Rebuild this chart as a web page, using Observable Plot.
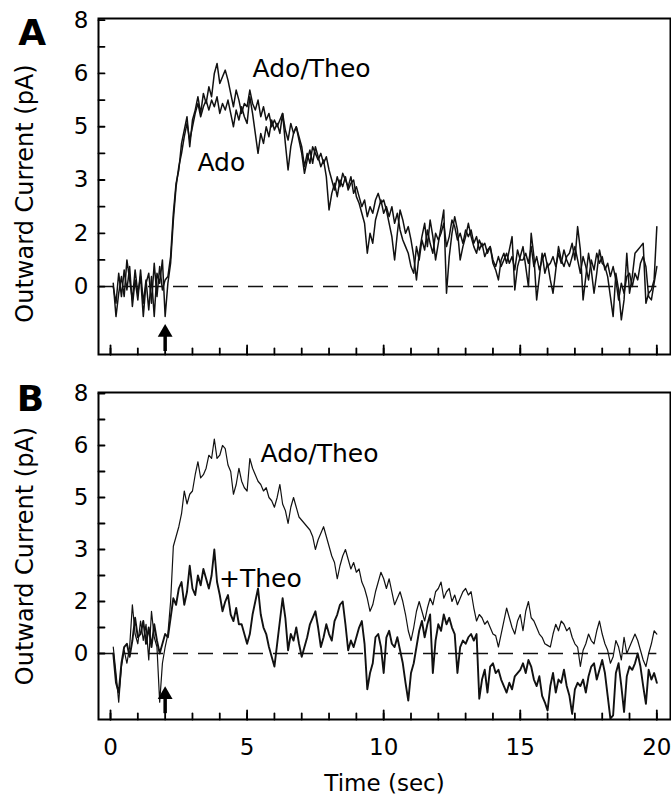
<!DOCTYPE html>
<html><head><meta charset="utf-8">
<script src="https://cdn.jsdelivr.net/npm/d3@7"></script>
<script src="https://cdn.jsdelivr.net/npm/@observablehq/plot@0.6"></script>
<style>
body{margin:0;background:#fff;}
#chart{position:relative;width:671px;height:795px;background:#fff;}
#chart svg{position:absolute;left:0;}
</style></head><body><div id="chart"></div>
<script>
// Sampling grid: 0.1 s to 20.0 s
const time = d3.range(1, 201).map(i => i / 10);

// Panel A – Ado/Theo (pA)
const panelA_adoTheo = [
 0.1,-0.9,-0.2,0.3,-0.3,0.8,0.2,-0.4,0.5,-0.2,
 0.3,-0.9,0.1,0.4,-0.5,0.7,-0.3,0.6,-0.1,0.2,
 0.3,0.9,2.2,3.1,3.5,4.3,4.7,5.1,4.2,5.0,
 5.3,5.7,5.2,5.8,5.5,6.0,5.7,6.4,6.7,6.1,
 6.3,6.5,6.2,5.8,5.4,5.9,5.6,5.2,5.5,5.4,
 5.9,5.5,5.3,5.6,5.1,5.4,5.0,5.2,4.8,5.0,
 4.8,5.0,5.2,4.7,4.4,4.9,4.6,4.8,4.5,4.2,
 3.6,4.0,3.7,4.2,4.0,3.8,4.0,3.7,3.9,3.5,
 3.2,2.9,3.3,3.0,3.4,3.2,3.0,3.3,2.8,3.0,
 2.7,2.4,2.6,2.1,2.4,2.2,2.6,2.8,2.5,2.6,
 2.3,1.9,1.5,0.8,1.6,2.3,2.0,1.6,1.8,1.4,
 0.9,0.2,1.0,1.5,1.9,1.2,2.0,1.5,0.8,1.3,
 1.8,2.3,-0.2,0.9,1.6,2.1,1.7,0.8,1.2,1.5,
 1.9,1.5,1.2,1.0,1.4,1.2,1.3,1.0,1.2,0.7,
 0.5,0.2,0.8,1.0,0.7,1.1,1.5,-0.1,0.6,0.9,
 1.2,0.6,0.0,1.6,0.9,-0.4,0.3,1.0,0.4,0.7,
 0.2,-0.2,0.5,1.2,0.8,0.6,0.9,1.0,1.3,0.8,
 1.8,1.1,-0.4,0.3,1.0,0.5,-0.2,0.4,1.1,0.7,
 0.6,0.3,-0.3,-0.9,0.4,-0.1,-1.0,-0.4,1.0,-0.2,
 0.3,1.0,1.1,1.2,1.3,-0.5,-0.2,-0.1,0.2,1.8
];
// Panel A – Ado (pA)
const panelA_ado = [
 0.0,-0.5,0.4,-0.3,0.5,-0.1,0.6,-0.6,0.2,-0.4,
 0.5,-0.5,0.2,-0.7,0.3,-0.9,0.4,0.1,0.8,-0.9,
 0.1,0.7,2.0,3.0,3.6,4.0,4.5,4.9,4.4,4.8,
 5.2,5.5,5.1,5.4,5.6,5.3,5.6,5.4,5.7,5.2,
 5.5,5.3,5.6,5.2,4.8,5.3,5.0,5.4,5.1,4.9,
 5.7,5.2,4.6,4.0,4.6,4.3,4.8,4.5,5.0,4.7,
 4.9,4.6,5.2,4.3,3.5,4.2,4.6,4.8,4.4,4.0,
 3.4,3.8,4.1,3.7,4.2,3.9,3.6,3.8,3.3,2.3,
 2.8,3.1,2.7,3.2,3.0,3.3,2.9,3.1,3.2,2.7,
 2.5,2.2,1.9,1.0,1.6,1.3,2.0,2.3,2.6,2.2,
 2.4,2.1,2.4,1.9,2.2,1.7,1.4,1.2,1.0,0.6,
 0.4,1.2,0.8,1.4,1.1,1.7,1.3,1.0,1.6,1.4,
 1.6,1.9,1.2,1.5,2.0,1.8,1.4,1.6,1.3,1.7,
 1.5,1.7,1.3,1.5,1.1,1.3,0.9,1.1,1.2,0.8,
 0.6,0.9,0.6,0.8,1.0,0.7,0.9,0.5,1.1,0.8,
 0.8,1.0,0.7,1.2,0.6,0.9,0.5,0.8,1.0,0.6,
 0.7,0.9,0.6,1.0,0.7,1.1,0.8,0.6,0.9,1.2,
 0.8,0.4,0.9,0.6,0.2,0.8,0.5,1.0,0.7,0.9,
 0.5,0.7,0.3,0.6,0.2,-0.4,0.1,-0.2,0.3,0.4,
 0.0,0.4,0.2,0.7,0.9,0.6,-0.3,-0.4,0.1,0.6
];
// Panel B – Ado/Theo (pA)
const panelB_adoTheo = [
 0.2,-0.6,-1.5,-0.4,0.1,-0.3,0.2,1.5,0.6,0.3,
 1.0,0.4,0.9,-0.2,1.3,0.5,0.2,-1.5,-0.3,0.2,
 0.6,1.6,3.3,3.6,3.9,4.3,5.0,4.6,4.9,5.0,
 5.5,5.9,5.4,5.5,5.7,6.1,6.0,6.6,6.0,6.1,
 6.4,6.3,5.8,5.6,4.9,5.2,5.7,5.3,5.1,5.0,
 6.0,5.7,5.5,5.3,5.2,5.0,5.1,4.8,4.7,4.5,
 4.8,5.2,4.6,4.4,4.0,4.5,4.8,4.5,4.2,4.1,
 4.0,3.9,3.8,3.6,3.2,3.5,3.7,3.9,3.6,3.3,
 3.0,2.8,2.3,2.7,3.0,3.2,2.9,2.6,2.8,2.5,
 2.6,2.2,2.0,1.7,1.3,1.5,1.9,2.2,2.5,2.3,
 2.0,2.3,1.9,1.5,1.7,1.9,1.6,1.2,0.7,0.4,
 0.8,1.3,1.6,1.3,1.0,1.4,1.7,1.5,1.9,2.0,
 2.2,1.7,1.9,2.0,1.6,1.8,1.5,1.7,1.9,2.0,
 1.8,1.9,1.4,1.0,1.2,1.1,0.9,1.0,0.8,0.6,
 0.55,0.2,0.6,1.0,1.4,1.1,0.8,0.6,1.0,1.2,
 0.7,1.3,1.6,1.1,1.0,0.8,0.6,0.5,0.3,0.25,
 0.2,0.6,0.9,0.7,1.0,0.9,0.7,0.8,0.5,0.3,
 0.2,-0.4,0.1,0.3,0.6,0.4,0.3,0.7,1.0,0.6,
 0.3,0.1,-0.3,-0.1,0.4,0.2,-0.2,0.5,0.0,0.2,
 0.4,0.6,0.4,0.1,-0.2,-0.4,0.0,0.3,0.7,0.6
];
// Panel B – +Theo (pA)
const panelB_theo = [
 0.0,-0.9,-1.2,-0.3,0.2,0.3,-0.1,0.4,1.1,0.5,
 0.6,1.0,0.3,0.8,0.2,0.9,0.4,0.0,0.3,0.6,
 0.5,1.1,1.7,1.5,2.0,2.2,1.5,1.9,2.7,2.0,
 1.8,2.4,2.1,2.6,2.3,2.0,2.4,3.2,2.2,1.8,
 1.3,1.6,1.8,1.2,1.0,1.4,0.9,0.9,0.6,0.3,
 0.6,1.2,1.6,2.0,1.2,0.8,0.6,0.2,-0.1,-0.4,
 0.3,1.0,1.7,1.1,0.1,0.6,0.4,0.8,0.3,-0.1,
 0.2,0.5,0.9,1.1,1.3,0.8,0.2,0.5,0.9,0.6,
 0.4,1.0,1.2,1.5,1.6,0.9,0.1,0.4,0.2,0.5,
 0.8,1.0,0.3,-1.1,-0.6,-0.3,0.5,0.6,0.2,-0.6,
 0.5,0.7,0.3,0.2,0.5,0.1,-0.3,-0.9,-1.45,-0.6,
 -0.3,0.2,0.7,1.0,0.5,0.9,1.2,-0.6,0.4,0.9,
 0.7,1.2,0.9,1.1,0.8,0.6,-0.6,0.2,0.4,0.3,
 0.5,0.6,0.4,0.6,-1.39,-0.8,-0.5,-1.2,-0.4,-0.3,
 -0.6,-0.5,-0.8,-1.0,-1.2,-0.9,-1.1,-0.7,-0.6,-0.5,
 -0.3,-0.6,-0.2,-0.4,-0.8,-1.0,-0.7,-1.3,-1.5,-1.75,
 -1.0,-0.6,-1.2,-0.8,-0.9,-0.5,-1.0,-1.3,-1.86,-1.1,
 -0.9,-1.0,-0.8,-1.2,-0.7,-0.4,-0.3,-0.8,-0.5,-0.2,
 -0.6,-1.3,-2.0,-1.9,-0.6,-0.3,-1.0,-1.8,-0.7,-0.4,
 -0.5,-0.3,0.0,-0.4,-1.0,-1.55,-0.5,-0.8,-0.6,-0.9
];

// Ticks
const yLabelTicks = [0, 1.6, 3.2, 4.8, 6.4, 8];
const yMinorTicks = [0, 0.8, 1.6, 2.4, 3.2, 4.0, 4.8, 5.6, 6.4, 7.2, 8.0];
const xMinorTicks = d3.range(0, 21);
const xMajorTicks = [0, 5, 10, 15, 20];

// Stimulus time (arrow)
const stimulusTime = 2;

// Annotations
const labelsA = [
  {t: 5.2, v: 6.28, label: "Ado/Theo"},
  {t: 3.18, v: 3.48, label: "Ado"}
];
const labelsB = [
  {t: 5.49, v: 5.89, label: "Ado/Theo"},
  {t: 3.97, v: 2.06, label: "+Theo"}
];

const toRows = vals => vals.map((v, i) => ({t: time[i], v}));
const fmt = d => d3.format(".0f")(d);
const FONT = "'DejaVu Sans', 'Liberation Sans', Arial, sans-serif";
const tickShape = {draw(context, l) { context.moveTo(0, 0); context.lineTo(0, -l); }};

function panel(o) {
  const marks = [
    Plot.ruleY([0], {x1: o.xDomain[0], x2: d3.max(time), stroke: "#111", strokeWidth: 1.6, strokeDasharray: "15,10"}),
    ...o.traces.map(tr => Plot.line(toRows(tr.values), {x: "t", y: "v", stroke: "#111", strokeWidth: tr.width, clip: true})),
    Plot.ruleX([stimulusTime], {y1: o.arrow.base, y2: o.arrow.head, stroke: "#000", strokeWidth: 3.5}),
    Plot.dot([{t: stimulusTime, v: o.arrow.head}], {x: "t", y: "v", symbol: "triangle", r: 5.5, fill: "#000", stroke: "none"}),
    Plot.frame({stroke: "#000", strokeWidth: 2}),
    // inward ticks
    Plot.vector(yMinorTicks, {y: d => d, frameAnchor: "left", length: 6, rotate: 90, anchor: "start", shape: tickShape, stroke: "#000", strokeWidth: 1.8}),
    Plot.vector(xMinorTicks, {x: d => d, frameAnchor: "bottom", length: 6, rotate: 0, anchor: "start", shape: tickShape, stroke: "#000", strokeWidth: 1.8}),
    Plot.vector(xMajorTicks, {x: d => d, frameAnchor: "bottom", length: 9, rotate: 0, anchor: "start", shape: tickShape, stroke: "#000", strokeWidth: 1.8}),
    Plot.axisY({ticks: yLabelTicks, tickSize: 0, tickPadding: 10, tickFormat: fmt, label: null, fontSize: 23}),
    Plot.text(o.labels, {x: "t", y: "v", text: "label", textAnchor: "start", lineAnchor: "bottom", fontSize: 25, fill: "#000"}),
    Plot.text([o.letter], {frameAnchor: "top-left", textAnchor: "middle", lineAnchor: "bottom", dx: o.letterDx, dy: o.letterDy, fontSize: 36, fontWeight: "bold", fill: "#000"}),
    Plot.text(["Outward Current (pA)"], {frameAnchor: "left", rotate: -90, textAnchor: "middle", lineAnchor: "bottom", dx: -66, dy: o.ylabelDy, fontSize: 24, fill: "#000"})
  ];
  if (o.showX) {
    marks.push(Plot.axisX({ticks: xMajorTicks, tickSize: 0, tickPadding: 19, label: null, fontSize: 23}));
    marks.push(Plot.text(["Time (sec)"], {frameAnchor: "bottom", textAnchor: "middle", lineAnchor: "bottom", dy: 71, fontSize: 23, fill: "#000"}));
  } else {
    marks.push(Plot.axisX({ticks: [], label: null}));
  }
  return Plot.plot({
    width: 671, height: o.height,
    marginLeft: 98, marginRight: 1, marginTop: o.marginTop, marginBottom: o.marginBottom,
    x: {domain: o.xDomain},
    y: {domain: o.yDomain},
    style: {fontFamily: FONT, fontSize: "23px", background: "#fff", color: "#000", overflow: "visible"},
    marks
  });
}

const xDomain = [-0.44, 20.5];
const svgA = panel({
  height: 362, marginTop: 18, marginBottom: 8, xDomain, yDomain: [-2.04, 8.05],
  traces: [{values: panelA_ado, width: 1.5}, {values: panelA_adoTheo, width: 1.5}],
  labels: labelsA, letter: "A", letterDx: -66.4, letterDy: 26, ylabelDy: 7,
  arrow: {base: -1.95, head: -1.38}, showX: false
});
const svgB = panel({
  height: 433, marginTop: 30, marginBottom: 76, xDomain, yDomain: [-2.03, 8.03],
  traces: [{values: panelB_adoTheo, width: 1.2}, {values: panelB_theo, width: 1.9}],
  labels: labelsB, letter: "B", letterDx: -68, letterDy: 18, ylabelDy: 0,
  arrow: {base: -1.85, head: -1.27}, showX: true
});
svgA.style.top = "0px";
svgB.style.top = "362px";
document.getElementById("chart").append(svgA, svgB);
</script></body></html>
